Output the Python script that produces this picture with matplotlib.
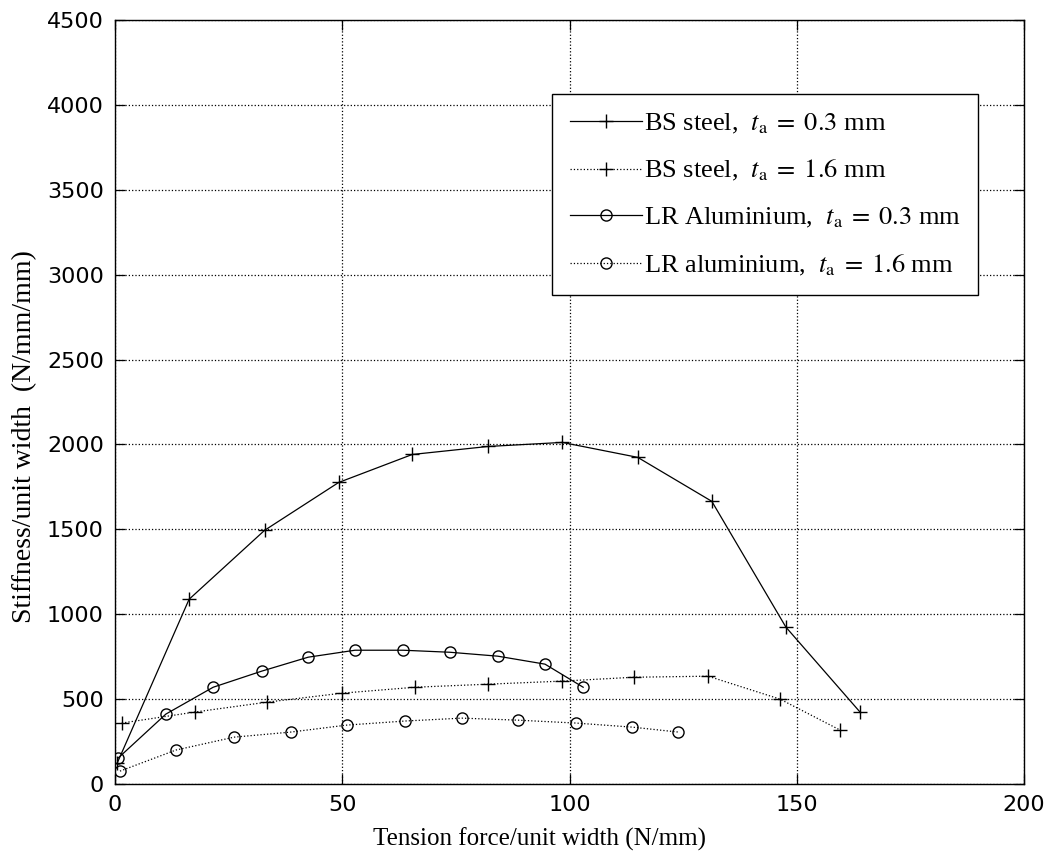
import matplotlib
matplotlib.use('Agg')
import matplotlib.pyplot as plt

plt.rcParams['mathtext.fontset'] = 'stix'

# BS steel, t_a = 0.3 mm
bs03_x = [0.5, 16.3, 32.9, 49.2, 65.4, 82.0, 98.4, 115.0, 131.3, 147.6, 163.9]
bs03_y = [124, 1088, 1494, 1776, 1941, 1988, 2012, 1924, 1665, 924, 424]
# BS steel, t_a = 1.6 mm
bs16_x = [1.5, 17.6, 33.4, 49.9, 66.0, 82.1, 98.3, 114.2, 130.5, 146.3, 159.5]
bs16_y = [359, 424, 482, 535, 570, 588, 606, 629, 635, 500, 318]
# LR aluminium, t_a = 0.3 mm
lr03_x = [0.7, 11.2, 21.6, 32.3, 42.5, 52.8, 63.4, 73.7, 84.2, 94.6, 103.0]
lr03_y = [153, 412, 570, 665, 747, 788, 788, 776, 753, 706, 570]
# LR aluminium, t_a = 1.6 mm
lr16_x = [1.1, 13.4, 26.2, 38.7, 51.0, 63.8, 76.3, 88.7, 101.4, 113.8, 123.9]
lr16_y = [76, 200, 276, 306, 347, 371, 388, 376, 359, 335, 306]

fig = plt.figure(figsize=(10.55, 8.59), dpi=100)
ax = fig.add_axes([0.109, 0.0873, 0.8617, 0.8894])

lw = 0.9
ax.plot(bs03_x, bs03_y, 'k-', marker='+', ms=10, mew=1.0, lw=lw,
        label=r'BS steel,  $t_{\rm a}\;=\;0.3$ mm')
ax.plot(bs16_x, bs16_y, 'k:', marker='+', ms=10, mew=1.0, lw=lw,
        label=r'BS steel,  $t_{\rm a}\;=\;1.6$ mm')
ax.plot(lr03_x, lr03_y, 'k-', marker='o', ms=8, mfc='none', mew=1.0, lw=lw,
        label=r'LR Aluminium,  $t_{\rm a}\;=\;0.3$ mm')
ax.plot(lr16_x, lr16_y, 'k:', marker='o', ms=8, mfc='none', mew=1.0, lw=lw,
        label=r'LR aluminium,  $t_{\rm a}\;=\;1.6$ mm')

ax.set_xlim(0, 200)
ax.set_ylim(0, 4500)
ax.set_xticks([0, 50, 100, 150, 200])
ax.set_yticks(range(0, 4501, 500))
ax.grid(True, color='k', linestyle=':', linewidth=0.9)
ax.tick_params(direction='in', length=7, width=0.9, top=True, right=True,
               labelsize=16, pad=8)
for lab in ax.get_xticklabels() + ax.get_yticklabels():
    lab.set_fontfamily('DejaVu Sans')
for s in ax.spines.values():
    s.set_linewidth(1.0)

ax.set_xlabel('Tension force/unit width (N/mm)', fontsize=18,
              family='Liberation Serif')
ax.xaxis.set_label_coords(0.4675, -0.057)
ax.set_ylabel('Stiffness/unit width  (N/mm/mm)', fontsize=20,
              family='Liberation Serif')
ax.yaxis.set_label_coords(-0.086, 0.455)

leg = ax.legend(loc='upper left', bbox_to_anchor=(0.481, 0.903),
                borderaxespad=0, fancybox=False, edgecolor='k',
                framealpha=1, handlelength=2.75, handletextpad=0.05,
                labelspacing=0.85, borderpad=0.66,
                prop={'family': 'Liberation Serif', 'size': 19})
leg.get_frame().set_linewidth(1.0)

fig.savefig('out.png', dpi=100)
